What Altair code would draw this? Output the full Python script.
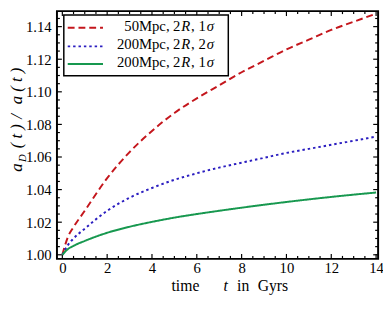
import altair as alt
import pandas as pd

# ---- data ----
t_vals = [0, 0.25, 0.5, 1, 2, 3, 4, 5, 6, 7, 8, 9, 10, 11, 12, 13, 14]
red_50 = [1.000, 1.011, 1.017, 1.027, 1.047, 1.063, 1.076, 1.087, 1.096, 1.104,
          1.112, 1.119, 1.126, 1.132, 1.138, 1.143, 1.148]
blue_200_2s = [1.000, 1.006, 1.010, 1.016, 1.027, 1.035, 1.041, 1.046, 1.050, 1.0535,
               1.0565, 1.0595, 1.0625, 1.065, 1.0675, 1.070, 1.0725]
green_200_1s = [1.000, 1.0035, 1.0055, 1.0085, 1.0135, 1.0172, 1.0202, 1.0228, 1.0250, 1.0270,
                1.0289, 1.0307, 1.0324, 1.0340, 1.0355, 1.0369, 1.0382]
series_names = ["50Mpc, 2R, 1σ", "200Mpc, 2R, 2σ", "200Mpc, 2R, 1σ"]
series_colors = ["#c4161c", "#2b1ec0", "#17984f"]
series_dash = [[7, 4], [2.5, 3], [1, 0]]

x_major = [0, 2, 4, 6, 8, 10, 12, 14]
x_minor = [v / 2 for v in range(0, 29) if v % 4 != 0]
y_major = [1.00, 1.02, 1.04, 1.06, 1.08, 1.10, 1.12, 1.14]
y_minor = [round(1.0 + k * 0.005, 3) for k in range(0, 30) if k % 4 != 0]

W, H = 328, 253
FONT = "Liberation Serif"

rows = []
for name, vals in zip(series_names, [red_50, blue_200_2s, green_200_1s]):
    for tt, vv in zip(t_vals, vals):
        rows.append({"t": tt, "v": vv, "series": name})
df = pd.DataFrame(rows)

xscale = alt.Scale(domain=[-0.24, 14.09], nice=False, zero=False)
yscale = alt.Scale(domain=[0.9975, 1.1495], nice=False, zero=False)

xaxis = alt.Axis(values=x_major, format="d", ticks=False, domain=False, grid=False,
                 labelFont=FONT, labelFontSize=15, labelColor="black", labelPadding=2,
                 title=None)
yaxis = alt.Axis(values=y_major, format=".2f", ticks=False, domain=False, grid=False,
                 labelFont=FONT, labelFontSize=15, labelColor="black", labelPadding=6,
                 title=None)

lines = alt.Chart(df).mark_line(strokeWidth=2, interpolate="monotone", clip=True).encode(
    x=alt.X("t:Q", scale=xscale, axis=xaxis),
    y=alt.Y("v:Q", scale=yscale, axis=yaxis),
    color=alt.Color("series:N", scale=alt.Scale(domain=series_names, range=series_colors), legend=None),
    strokeDash=alt.StrokeDash("series:N", scale=alt.Scale(domain=series_names, range=series_dash), legend=None),
)

def xticks(vals, length):
    d = pd.DataFrame({"t": vals})
    bottom = alt.Chart(d).mark_rule(color="black", strokeWidth=1.2).encode(
        x=alt.X("t:Q", scale=xscale, axis=xaxis), y=alt.value(H), y2=alt.value(H - length))
    top = alt.Chart(d).mark_rule(color="black", strokeWidth=1.2).encode(
        x=alt.X("t:Q", scale=xscale, axis=xaxis), y=alt.value(0), y2=alt.value(length))
    return [bottom, top]

def yticks(vals, length):
    d = pd.DataFrame({"v": vals})
    left = alt.Chart(d).mark_rule(color="black", strokeWidth=1.2).encode(
        y=alt.Y("v:Q", scale=yscale, axis=yaxis), x=alt.value(0), x2=alt.value(length))
    right = alt.Chart(d).mark_rule(color="black", strokeWidth=1.2).encode(
        y=alt.Y("v:Q", scale=yscale, axis=yaxis), x=alt.value(W), x2=alt.value(W - length))
    return [left, right]

ticks = xticks(x_major, 5) + xticks(x_minor, 3) + yticks(y_major, 5) + yticks(y_minor, 3)

one = alt.Data(values=[{}])

def txt(s, x, y, size=15, style="normal", align="left", angle=0, baseline="alphabetic"):
    return alt.Chart(one).mark_text(
        text=s, font=FONT, fontSize=size, fontStyle=style, align=align,
        baseline=baseline, angle=angle, color="black"
    ).encode(x=alt.value(x), y=alt.value(y))

# legend box
legend_box = alt.Chart(one).mark_rect(fill="white", stroke="black", strokeWidth=1.5).encode(
    x=alt.value(7), x2=alt.value(175), y=alt.value(4), y2=alt.value(66))

legend_layers = [legend_box]
row_line_y = [17, 36, 54]
row_text_y = [20.5, 39, 57]
left_parts = ["50Mpc,", "200Mpc,", "200Mpc,"]
sig_parts = ["1", "2", "1"]
for i in range(3):
    legend_layers.append(
        alt.Chart(one).mark_rule(color=series_colors[i], strokeWidth=2,
                                 strokeDash=series_dash[i]).encode(
            x=alt.value(11), x2=alt.value(47), y=alt.value(row_line_y[i])))
    ty = row_text_y[i]
    legend_layers += [
        txt(left_parts[i], 115, ty, align="right"),
        txt("2", 118.5, ty),
        txt("R", 127, ty, style="italic"),
        txt(", " + sig_parts[i], 137, ty),
        txt("σ", 153, ty, style="italic"),
    ]

# axis titles
YX = -36
TY = 286
title_layers = [
    txt("time", 117, TY, size=16),
    txt("t", 170, TY, size=16, style="italic"),
    txt("in", 184, TY, size=16),
    txt("Gyrs", 205, TY, size=16),
    txt("a", YX, 164, size=17, style="italic", angle=270),
    txt("D", YX + 4, 154, size=11, style="italic", angle=270),
    txt("( t )", YX, 140, size=17, style="italic", angle=270),
    txt("/", YX, 110, size=17, style="italic", angle=270),
    txt("a ( t )", YX, 95, size=17, style="italic", angle=270),
]

chart = alt.layer(*ticks, lines, *legend_layers, *title_layers).properties(
    width=W, height=H,
    autosize=alt.AutoSizeParams(type="none"),
    padding={"left": 50, "top": 0, "right": 5, "bottom": 48},
).configure_view(stroke="black", strokeWidth=2).configure_axis(grid=False)

chart.save("out.html", embed_options={"renderer": "svg", "actions": False})
